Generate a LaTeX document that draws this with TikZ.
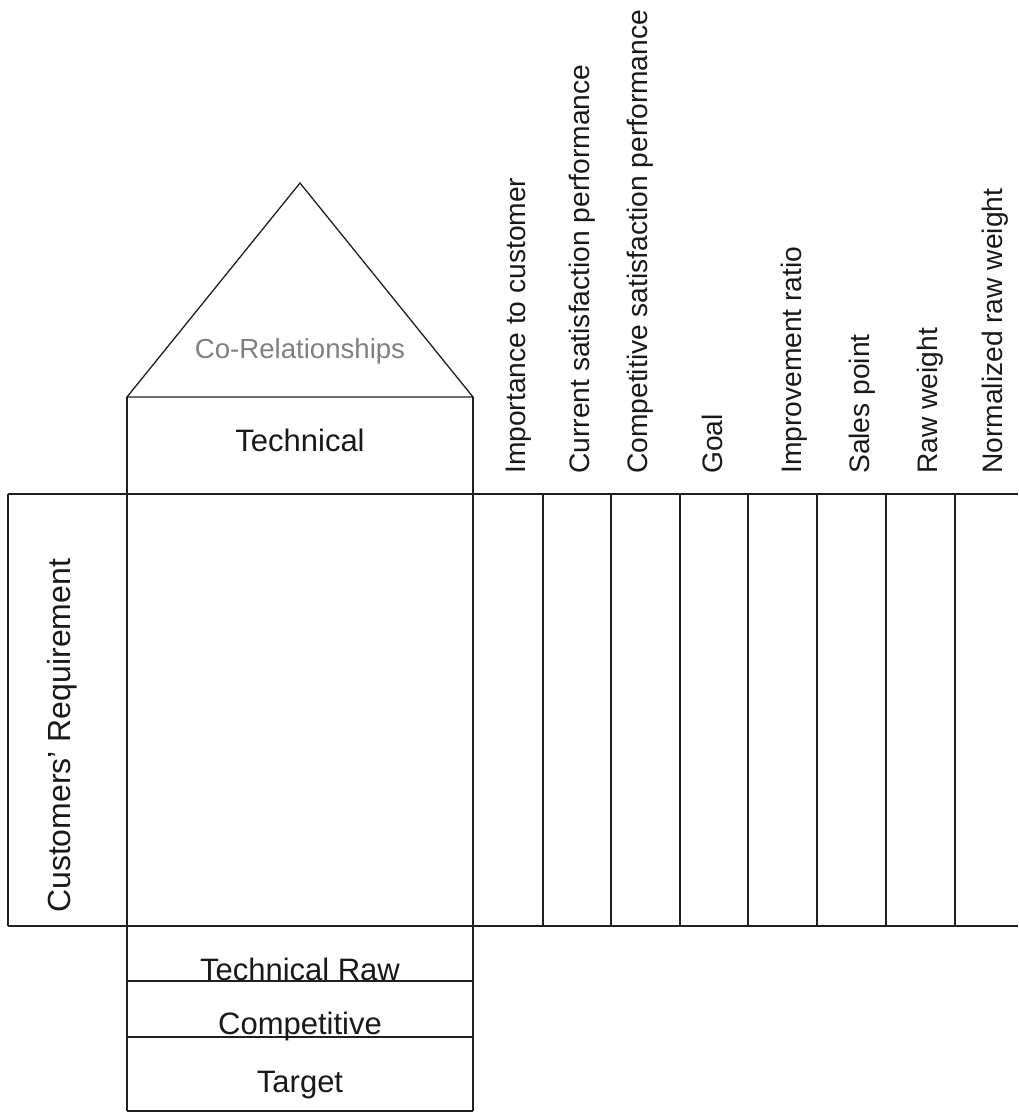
\documentclass[tikz,border=0pt]{standalone}
\usepackage{fontspec}
\setmainfont{Liberation Sans}
\begin{document}
\begin{tikzpicture}[x=1pt,y=-1pt,
  ln/.style={line width=1.3pt,draw=black!88},
  collabel/.style={rotate=90,anchor=base west,inner sep=0pt,text=black!90,font=\fontsize{28.2}{34}\selectfont},
  boxlabel/.style={anchor=base,inner sep=0pt,text=black!90,font=\fontsize{31}{37}\selectfont}]
\useasboundingbox (0,0) rectangle (1018,1113);
% roof
\draw[ln] (127,397) -- (300,183) -- (473,397) -- cycle;
\node[anchor=base,inner sep=0pt,text=black!50,font=\fontsize{27.6}{33}\selectfont] (corel) at (300,358) {Co-Relationships};
% technical box
\draw[ln] (127,397) -- (127,1111);
\draw[ln] (473,397) -- (473,1111);
\node[boxlabel] (tech) at (300,451) {Technical};
% main horizontal lines
\draw[ln] (8,494) -- (1018,494);
\draw[ln] (8,926) -- (1018,926);
\draw[ln] (8,494) -- (8,926);
% column lines
\foreach \cx in {543,611,680,748,817,886,955}{
  \draw[ln] (\cx,494) -- (\cx,926);
}
% bottom boxes
\draw[ln] (127,981) -- (473,981);
\draw[ln] (127,1037) -- (473,1037);
\draw[ln] (127,1111) -- (473,1111);
\node[boxlabel] (techraw) at (300,980) {Technical Raw};
\node[boxlabel] (comp) at (300,1034) {Competitive};
\node[boxlabel] (target) at (300,1092) {Target};
% customers' requirement
\node[rotate=90,anchor=base west,inner sep=0pt,text=black!90,font=\fontsize{32}{38}\selectfont] (custreq) at (70,913) {Customers{\char"0027}\ Requirement};
% column labels
\node[collabel] (c1) at (525,474) {Importance to customer};
\node[collabel] (c2) at (589,474) {Current satisfaction performance};
\node[collabel] (c3) at (647,474) {Competitive satisfaction performance};
\node[collabel] (c4) at (722,474) {Goal};
\node[collabel] (c5) at (801,474) {Improvement ratio};
\node[collabel] (c6) at (869,474) {Sales point};
\node[collabel] (c7) at (937,474) {Raw weight};
\node[collabel] (c8) at (1002,474) {Normalized raw weight};
\end{tikzpicture}
\end{document}
